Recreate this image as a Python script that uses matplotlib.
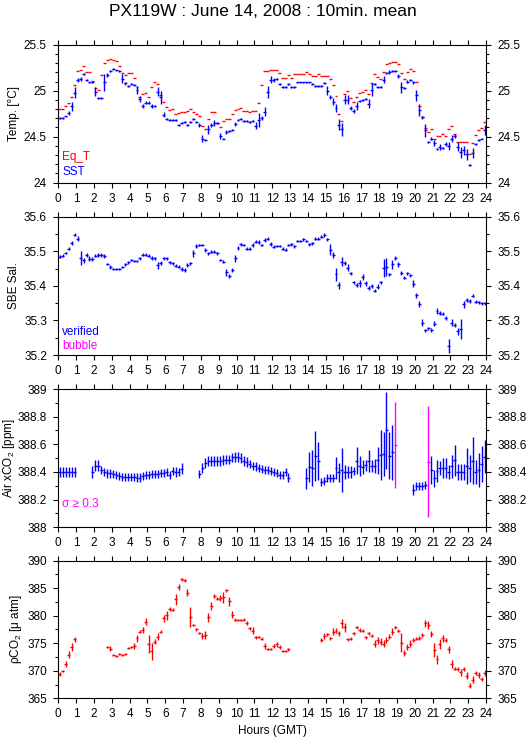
import numpy as np
from matplotlib import pyplot as plt
from matplotlib.ticker import MultipleLocator, FuncFormatter

plt.rcParams['font.family'] = ['Liberation Sans', 'DejaVu Sans']
plt.rcParams['mathtext.fontset'] = 'custom'
plt.rcParams['mathtext.rm'] = 'Liberation Sans'
plt.rcParams['mathtext.it'] = 'Liberation Sans:italic'

nan = np.nan

# 10-min means, 6 values per hour (hour 0 .. 23)
eq_t = [
    24.80, 24.80, 24.83, 24.87, 24.93, 25.06,
    25.21, 25.23, 25.27, 25.20, 25.20, 25.11,
    25.03, 25.01, 25.17, 25.30, 25.33, 25.35,
    25.33, 25.32, 25.27, 25.19, 25.17, 25.19,
    25.19, 25.14, 25.04, 24.93, 24.96, 24.97,
    24.93, 25.04, 25.10, 25.07, 24.95, 24.88,
    24.82, 24.79, 24.80, 24.75, 24.76, 24.77,
    24.77, 24.78, 24.80, 24.77, 24.75, 24.73,
    24.62, 24.58, 24.69, 24.77, 24.77, 24.65,
    24.60, 24.67, 24.69, 24.69, 24.75, 24.79,
    24.80, 24.81, 24.78, 24.78, 24.77, 24.78,
    24.78, 24.87, 25.06, 25.21, 25.21, 25.22,
    25.22, 25.23, 25.19, 25.14, 25.14, 25.17,
    25.14, 25.18, 25.18, 25.18, 25.18, 25.20,
    25.18, 25.16, 25.16, 25.18, 25.16, 25.16,
    25.16, 25.13, 25.06, 24.94, 24.75, 24.67,
    24.96, 25.00, 24.92, 24.88, 24.93, 24.97,
    24.99, 25.01, 24.96, 25.08, 25.18, 25.15,
    25.13, 25.20, 25.29, 25.30, 25.31, 25.31,
    25.29, 25.19, 25.13, 25.20, 25.24, 25.21,
    25.09, 24.83, 24.71, 24.59, 24.55, 24.58,
    24.48, 24.51, 24.51, 24.53, 24.51, 24.58,
    24.62, 24.53, 24.44, 24.44, 24.44, 24.44,
    24.31, 24.43, 24.52, 24.57, 24.59, 24.66,
]

sst = [
    24.70, 24.70, 24.72, 24.76, 24.83, 24.98,
    25.12, 25.13, 25.18, 25.12, 25.09, 25.09,
    24.99, 24.92, 24.92, 25.09, 25.17, 25.21,
    25.24, 25.22, 25.21, 25.13, 25.08, 25.05,
    25.07, 25.06, 25.01, 24.91, 24.83, 24.87,
    24.87, 24.83, 24.83, 24.99, 24.93, 24.74,
    24.69, 24.68, 24.68, 24.68, 24.63, 24.65,
    24.66, 24.63, 24.66, 24.69, 24.66, 24.63,
    24.48, 24.46, 24.58, 24.63, 24.65, 24.65,
    24.51, 24.48, 24.55, 24.56, 24.57, 24.64,
    24.68, 24.69, 24.67, 24.67, 24.66, 24.67,
    24.62, 24.68, 24.70, 24.77, 24.99, 25.12,
    25.12, 25.13, 25.07, 25.04, 25.04, 25.07,
    25.04, 25.04, 25.09, 25.09, 25.09, 25.09,
    25.09, 25.07, 25.05, 25.05, 25.05, 25.08,
    25.00, 24.93, 24.88, 24.81, 24.63, 24.58,
    24.90, 24.90, 24.81, 24.78, 24.83, 24.89,
    24.90, 24.91, 24.86, 25.01, 25.07, 25.04,
    25.04, 25.12, 25.19, 25.20, 25.21, 25.21,
    25.16, 25.04, 25.03, 25.10, 25.12, 25.09,
    24.95, 24.79, 24.71, 24.57, 24.44, 24.48,
    24.43, 24.37, 24.39, 24.38, 24.42, 24.40,
    24.48, 24.51, 24.39, 24.33, 24.35, 24.31,
    24.19, 24.32, 24.42, 24.46, 24.48, 24.57,
]

sst_err = [
    .01, .01, .01, .02, .05, .06,
    .02, .02, .01, .01, .01, .01,
    .05, .01, .01, .09, .02, .01,
    .01, .01, .01, .05, .02, .01,
    .01, .01, .045, .035, .02, .02,
    .02, .02, .01, .045, .07, .03,
    .01, .01, .01, .01, .01, .01,
    .01, .01, .01, .01, .01, .02,
    .04, .01, .05, .02, .035, .01,
    .035, .01, .02, .01, .01, .02,
    .01, .01, .01, .01, .01, .01,
    .035, .08, .02, .05, .065, .035,
    .02, .01, .01, .01, .01, .01,
    .01, .01, .01, .01, .01, .01,
    .01, .01, .01, .01, .01, .01,
    .05, .02, .04, .04, .06, .07,
    .05, .05, .02, .02, .045, .01,
    .01, .01, .05, .07, .01, .01,
    .01, .04, .01, .02, .01, .01,
    .02, .06, .01, .02, .01, .02,
    .06, .06, .02, .07, .01, .02,
    .035, .01, .035, .01, .02, .045,
    .04, .02, .05, .06, .045, .06,
    .01, .055, .01, .01, .01, .055,
]

sal = [
    35.485, 35.487, 35.495, 35.508, 35.523, 35.548,
    35.537, 35.480, 35.474, 35.489, 35.479, 35.477,
    35.487, 35.490, 35.490, 35.487, 35.463, 35.455,
    35.449, 35.449, 35.449, 35.455, 35.462, 35.468,
    35.475, 35.472, 35.472, 35.480, 35.490, 35.490,
    35.487, 35.480, 35.480, 35.460, 35.465, 35.480,
    35.480, 35.468, 35.465, 35.458, 35.455, 35.450,
    35.446, 35.460, 35.465, 35.494, 35.515, 35.518,
    35.518, 35.504, 35.494, 35.499, 35.499, 35.494,
    35.475, 35.470, 35.440, 35.428, 35.446, 35.480,
    35.510, 35.520, 35.518, 35.508, 35.508, 35.518,
    35.528, 35.528, 35.518, 35.533, 35.537, 35.520,
    35.513, 35.516, 35.516, 35.508, 35.505, 35.518,
    35.520, 35.515, 35.530, 35.530, 35.535, 35.530,
    35.520, 35.523, 35.537, 35.537, 35.542, 35.547,
    35.535, 35.505, 35.489, 35.433, 35.402, 35.470,
    35.465, 35.452, 35.436, 35.410, 35.402, 35.407,
    35.425, 35.407, 35.393, 35.400, 35.386, 35.398,
    35.410, 35.452, 35.455, 35.433, 35.462, 35.481,
    35.462, 35.438, 35.424, 35.436, 35.431, 35.406,
    35.373, 35.347, 35.293, 35.272, 35.277, 35.272,
    35.291, 35.327, 35.322, 35.320, 35.308, 35.226,
    35.294, 35.287, 35.269, 35.275, 35.347, 35.359,
    35.357, 35.372, 35.354, 35.352, 35.350, 35.350,
]

sal_err = [
    .004, .004, .004, .005, .006, .005,
    .007, .020, .008, .006, .008, .006,
    .004, .005, .005, .006, .004, .005,
    .003, .003, .003, .003, .004, .004,
    .004, .003, .003, .004, .004, .004,
    .004, .006, .004, .010, .006, .004,
    .004, .004, .004, .004, .004, .006,
    .006, .006, .005, .010, .006, .004,
    .004, .006, .005, .004, .004, .005,
    .004, .004, .010, .005, .006, .010,
    .006, .004, .004, .004, .004, .005,
    .004, .006, .004, .006, .004, .006,
    .004, .003, .003, .004, .004, .004,
    .004, .004, .004, .004, .004, .004,
    .004, .004, .004, .004, .004, .006,
    .004, .017, .008, .020, .010, .013,
    .006, .010, .005, .004, .005, .010,
    .008, .008, .006, .006, .005, .006,
    .004, .026, .025, .004, .013, .006,
    .008, .006, .004, .004, .004, .010,
    .007, .008, .010, .004, .005, .006,
    .006, .008, .006, .004, .006, .020,
    .010, .006, .010, .030, .010, .006,
    .006, .004, .004, .004, .004, .004,
]

air_co2 = [
    388.40, 388.40, 388.40, 388.40, 388.40, 388.40,
    nan, nan, nan, nan, nan, 388.40,
    388.445, 388.445, 388.415, 388.40, 388.39, 388.39,
    388.385, 388.38, 388.37, 388.365, 388.365, 388.365,
    388.365, 388.365, 388.36, 388.36, 388.37, 388.378,
    388.378, 388.385, 388.385, 388.385, 388.395, 388.395,
    388.40, 388.378, 388.407, 388.40, 388.40, 388.425,
    nan, nan, nan, nan, nan, 388.383,
    388.43, 388.463, 388.48, 388.48, 388.48, 388.48,
    388.48, 388.485, 388.49, 388.49, 388.505, 388.51,
    388.51, 388.50, 388.48, 388.47, 388.46, 388.443,
    388.44, 388.43, 388.42, 388.414, 388.414, 388.407,
    388.40, 388.395, 388.378, 388.378, 388.40, 388.36,
    nan, nan, nan, nan, nan, 388.354,
    388.434, 388.426, 388.516, 388.48, 388.33, 388.335,
    388.354, 388.354, 388.354, 388.426, 388.398, 388.414,
    388.40, 388.40, 388.40, 388.407, 388.482, 388.443,
    388.436, 388.45, 388.48, 388.443, 388.443, 388.484,
    388.523, 388.53, 388.70, 388.516, 388.542, 388.593,
    nan, nan, nan, nan, nan, 388.27,
    388.30, 388.30, 388.30, 388.306, 388.475, 388.412,
    388.354, 388.407, 388.43, 388.43, 388.43, 388.40,
    388.44, 388.484, 388.40, 388.40, 388.40, 388.44,
    388.426, 388.48, 388.40, 388.414, 388.455, 388.51,
]

air_co2_err = [
    .035, .035, .035, .035, .035, .035,
    0, 0, 0, 0, 0, .04,
    .04, .04, .03, .03, .035, .035,
    .03, .03, .03, .03, .03, .03,
    .03, .03, .03, .03, .03, .03,
    .03, .03, .03, .03, .03, .03,
    .03, .03, .03, .035, .03, .04,
    0, 0, 0, 0, 0, .03,
    .035, .035, .035, .035, .035, .035,
    .035, .035, .035, .035, .035, .035,
    .035, .035, .035, .035, .03, .03,
    .03, .03, .03, .03, .03, .03,
    .03, .03, .03, .03, .03, .03,
    0, 0, 0, 0, 0, .075,
    .11, .13, .18, .14, .03, .03,
    .03, .03, .03, .08, .07, .16,
    .05, .04, .04, .03, .10, .07,
    .05, .04, .08, .04, .05, .10,
    .18, .16, .28, .17, .20, .31,
    0, 0, 0, 0, 0, .04,
    .03, .03, .03, .03, .40, .10,
    .06, .08, .05, .07, .07, .05,
    .08, .11, .06, .06, .06, .13,
    .10, .17, .09, .12, .13, .12,
]

pco2 = [
    369.4, 370.0, 371.2, 372.9, 374.3, 375.7,
    nan, nan, nan, nan, nan, nan,
    nan, nan, nan, nan, 374.3, 374.0,
    372.8, 372.7, 373.0, 372.9, 373.0, 374.1,
    374.3, 374.5, 375.9, 377.1, 377.4, 378.9,
    374.9, 373.5, 375.3, 376.2, 377.1, 379.5,
    380.1, 381.2, 381.1, 383.0, 385.2, 386.6,
    386.4, 384.2, 379.7, 378.3, 377.5, 376.9,
    376.3, 376.5, 379.7, 381.8, 383.6, 383.1,
    383.2, 383.4, 384.6, 382.6, 380.2, 379.3,
    379.2, 379.2, 379.3, 378.7, 377.7, 377.3,
    376.1, 376.2, 375.8, 374.5, 373.9, 373.9,
    374.5, 374.8, 374.3, 373.6, 373.6, 373.9,
    nan, nan, nan, nan, nan, nan,
    nan, nan, nan, nan, 375.6, 376.3,
    376.6, 375.9, 377.1, 377.3, 376.8, 378.6,
    377.9, 375.7, 375.8, 376.8, 377.9, 377.4,
    377.3, 376.1, 376.8, 376.4, 374.9, 375.5,
    375.3, 374.9, 375.6, 376.2, 377.1, 377.9,
    377.3, 375.1, 373.2, 374.3, 374.9, 375.6,
    375.8, 376.0, 376.5, 378.6, 378.3, 376.7,
    373.8, 372.1, 374.8, 375.9, 375.6, 373.9,
    371.2, 370.4, 370.3, 369.7, 370.3, 369.1,
    367.3, 368.4, 369.6, 369.2, 368.5, 369.6,
]

pco2_err = [
    .3, .2, .6, .6, .7, .5,
    0, 0, 0, 0, 0, 0,
    0, 0, 0, 0, .2, .5,
    .2, .2, .2, .2, .2, .2,
    .2, .5, .6, .3, .5, .6,
    1.6, 1.5, .5, .6, .3, .6,
    .8, .3, .3, 1.0, .6, .3,
    .3, .7, 1.8, .2, .3, .2,
    .6, .8, .8, .7, .3, .3,
    .5, 1.0, .3, .8, .6, .3,
    .2, .2, .2, .3, .3, .6,
    .3, .2, .3, .5, .2, .2,
    .4, .5, .3, .2, .2, .3,
    0, 0, 0, 0, 0, 0,
    0, 0, 0, 0, .3, .5,
    .3, .3, .6, .5, .4, .8,
    .8, .3, .3, .3, .3, .3,
    .3, .3, .3, .3, .6, .6,
    .6, .6, .5, .4, .6, .3,
    .3, 1.7, .5, .6, .6, .3,
    .3, .4, .3, .7, .8, .6,
    1.3, .8, .9, .6, .3, .6,
    .7, .3, .3, .6, .3, .6,
    .4, .6, .3, .5, .3, .6,
]

hours = np.arange(144) / 6.0 + 1 / 12.0
half = 1 / 12.0
fs = 8.5

fig = plt.figure(figsize=(5.29, 7.39), dpi=100)
left, width = 0.1102, 0.8085
ax1 = fig.add_axes([left, 0.7528, width, 0.1867])
ax2 = fig.add_axes([left, 0.5196, width, 0.1871])
ax3 = fig.add_axes([left, 0.2865, width, 0.1871])
ax4 = fig.add_axes([left, 0.0551, width, 0.1862])


def setup(ax, ylim, major, minor, ylabel, lpad=2.5):
    ax.set_xlim(0, 24)
    ax.set_ylim(*ylim)
    ax.xaxis.set_major_locator(MultipleLocator(1))
    ax.yaxis.set_major_locator(MultipleLocator(major))
    ax.yaxis.set_minor_locator(MultipleLocator(minor))
    ax.yaxis.set_major_formatter(FuncFormatter(lambda v, p: '%g' % round(v, 3)))
    ax.tick_params(which='both', direction='out', top=True, right=True,
                   labelright=True, labelsize=fs, width=0.8)
    ax.tick_params(which='major', length=3.8)
    ax.tick_params(which='minor', length=2.4)
    ax.tick_params(axis='y', which='major', pad=4.4)
    for s in ax.spines.values():
        s.set_linewidth(0.8)
    ax.set_ylabel(ylabel, fontsize=fs, labelpad=lpad)


setup(ax1, (24, 25.5), 0.5, 0.1, 'Temp. [°C]')
ax1.errorbar(hours, eq_t, xerr=half, fmt='none', ecolor='red', elinewidth=1)
ax1.errorbar(hours, sst, xerr=half, yerr=sst_err, fmt='none', ecolor='blue', elinewidth=1)
ax1.text(0.009, 0.186, 'Eq_T', color='red', fontsize=fs, transform=ax1.transAxes, va='center')
ax1.text(0.009, 0.078, 'SST', color='blue', fontsize=fs, transform=ax1.transAxes, va='center')

setup(ax2, (35.2, 35.6), 0.1, 0.05, 'SBE Sal.')
ax2.errorbar(hours, sal, xerr=half, yerr=sal_err, fmt='none', ecolor='blue', elinewidth=1)
ax2.text(0.009, 0.167, 'verified', color='blue', fontsize=fs, transform=ax2.transAxes, va='center')
ax2.text(0.009, 0.065, 'bubble', color='magenta', fontsize=fs, transform=ax2.transAxes, va='center')

setup(ax3, (388, 389), 0.2, 0.1, 'Air xCO$_2$ [ppm]', lpad=0.6)
co2 = np.array(air_co2)
co2_err = np.array(air_co2_err)
big = co2_err >= 0.3
ax3.errorbar(hours[~big], co2[~big], xerr=half, yerr=co2_err[~big], fmt='none',
             ecolor='blue', elinewidth=1)
ax3.errorbar(hours[big], co2[big], xerr=half, yerr=co2_err[big], fmt='none',
             ecolor='magenta', elinewidth=1)
ax3.text(0.009, 0.169, 'σ ≥ 0.3', color='magenta', fontsize=fs, transform=ax3.transAxes, va='center')

setup(ax4, (365, 390), 5, 2.5, 'ρCO$_2$ [μ atm]')
ax4.errorbar(hours, pco2, xerr=half, yerr=pco2_err, fmt='none', ecolor='red', elinewidth=1)
ax4.set_xlabel('Hours (GMT)', fontsize=fs, labelpad=3)

fig.text(263 / 529, 1 - 12 / 739, 'PX119W : June 14, 2008 : 10min. mean',
         ha='center', va='center', fontsize=12.5)

fig.savefig('out.png', dpi=100)
